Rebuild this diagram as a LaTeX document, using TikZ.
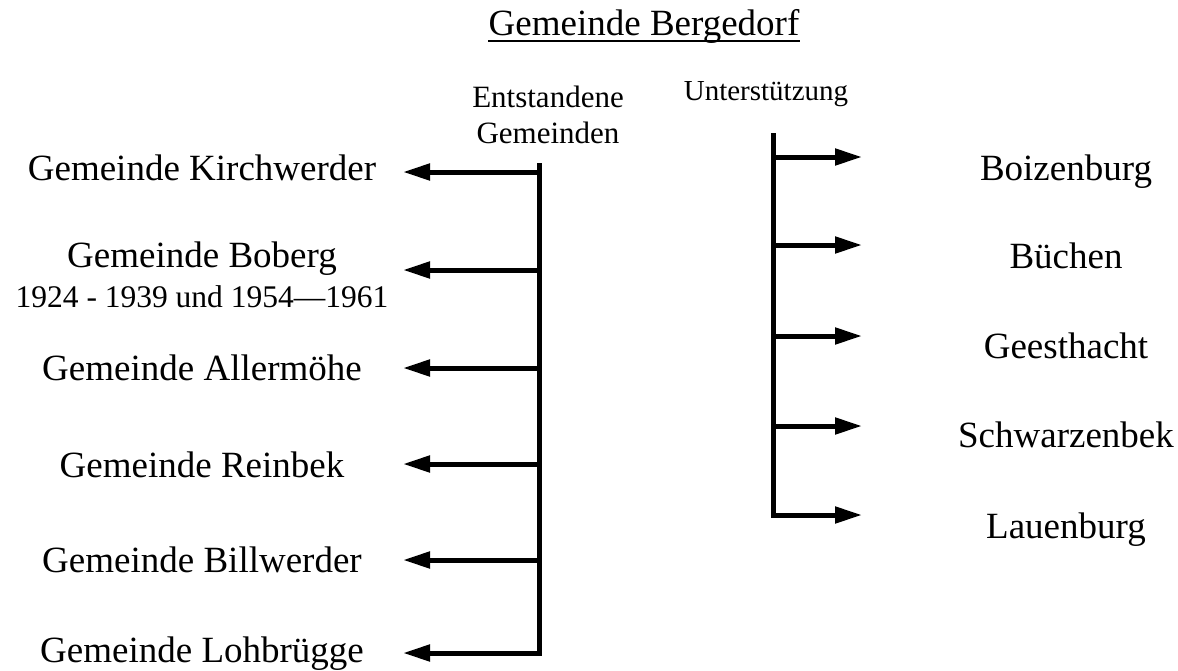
\documentclass[tikz,border=0pt]{standalone}
\usepackage{fontspec}
\setmainfont{Liberation Serif}
\usetikzlibrary{arrows.meta}
\begin{document}
\begin{tikzpicture}[x=1pt,y=-1pt,
  big/.style={font=\fontsize{37}{44}\selectfont, inner sep=0pt, anchor=base},
  two/.style={inner sep=0pt, align=center, anchor=base},
  small/.style={font=\fontsize{29}{37}\selectfont, inner sep=0pt, align=center, anchor=base},
  conn/.style={line width=5pt, line join=miter, -{Triangle[length=27pt,width=16pt]}}]
\useasboundingbox (0,0) rectangle (1178,670);

% title
\node[big] (title) at (644,35) {Gemeinde Bergedorf};
\draw[line width=2pt] ([yshift=-6pt]title.base west) -- ([yshift=-6pt]title.base east);

% headings
\node[small, font=\fontsize{31}{36}\selectfont] (entst) at (548,143) {Entstandene\\Gemeinden};
\node[small] (unter) at (766,100) {Unterstützung};

% left labels
\node[big] (kirch) at (202,180) {Gemeinde Kirchwerder};
\node[two] (boberg) at (202,307) {\fontsize{37}{39}\selectfont Gemeinde Boberg\\[9pt]\fontsize{31.5}{39}\selectfont 1924 - 1939 und 1954—1961};
\node[big] (aller) at (202,380) {Gemeinde Allermöhe};
\node[big] (rein) at (202,477) {Gemeinde Reinbek};
\node[big] (bill) at (202,572) {Gemeinde Billwerder};
\node[big] (lohb) at (202,662) {Gemeinde Lohbrügge};

% right labels
\node[big] (boiz) at (1066,180) {Boizenburg};
\node[big] (buech) at (1066,268) {Büchen};
\node[big] (geest) at (1066,358) {Geesthacht};
\node[big] (schw) at (1066,447) {Schwarzenbek};
\node[big] (lauen) at (1066,538) {Lauenburg};

% left trunk
\coordinate (Ltop) at (539,163);
\coordinate (L1) at (539,172);
\coordinate (L2) at (539,270);
\coordinate (L3) at (539,368);
\coordinate (L4) at (539,464);
\coordinate (L5) at (539,560);
\coordinate (L6) at (539,653);
\coordinate (T1) at (403,172);
\coordinate (T2) at (403,270);
\coordinate (T3) at (403,368);
\coordinate (T4) at (403,464);
\coordinate (T5) at (403,560);
\coordinate (T6) at (403,653);
\draw[conn] (Ltop) -- (L6) -- (T6);
\foreach \i in {1,...,5} \draw[conn] (L\i) -- (T\i);

% right trunk
\coordinate (Rtop) at (773,133);
\coordinate (R1) at (773,157);
\coordinate (R2) at (773,245);
\coordinate (R3) at (773,336);
\coordinate (R4) at (773,426);
\coordinate (R5) at (773,515);
\coordinate (U1) at (862,157);
\coordinate (U2) at (862,245);
\coordinate (U3) at (862,336);
\coordinate (U4) at (862,426);
\coordinate (U5) at (862,515);
\draw[conn] (Rtop) -- (R5) -- (U5);
\foreach \i in {1,...,4} \draw[conn] (R\i) -- (U\i);
\end{tikzpicture}
\end{document}
